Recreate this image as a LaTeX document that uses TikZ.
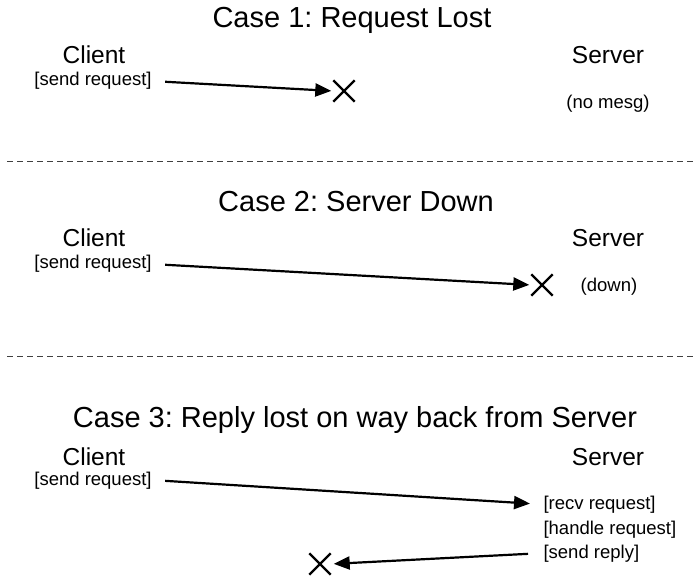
\documentclass[tikz,border=0pt]{standalone}
\usepackage{fontspec}
\setmainfont{Liberation Sans}
\usetikzlibrary{arrows.meta,shapes.misc}
\frenchspacing

\tikzset{
  casetitle/.style={font=\fontsize{29}{34}\selectfont, anchor=base},
  party/.style={font=\fontsize{24.5}{29}\selectfont, anchor=base},
  action/.style={font=\fontsize{18.5}{22}\selectfont, anchor=base},
  lost/.style={draw, cross out, line width=2.4pt, minimum size=19pt, inner sep=0pt},
  msg/.style={line width=2.2pt, -{Triangle[length=16pt,width=13pt]}},
  divider/.style={black!75, line width=1pt, dash pattern=on 6pt off 4pt}
}

\begin{document}
\begin{tikzpicture}[x=1pt,y=-1pt]
\useasboundingbox (0,0) rectangle (694,577);

% Case 1
\node[casetitle] (title1) at (352,28) {Case 1: Request Lost};
\node[party] (client1) at (94,64) {Client};
\node[party] (server1) at (608,64) {Server};
\node[action] (req1) at (93,86) {[send request]};
\node[action] (nomesg) at (608,109) {(no mesg)};
\node[lost] (x1) at (344,91) {};
\draw[msg, shorten <=10pt, shorten >=2pt] (req1.east) -- (x1.west);

\draw[divider] (7,162) -- (694,162);

% Case 2
\node[casetitle] (title2) at (356,212) {Case 2: Server Down};
\node[party] (client2) at (94,247) {Client};
\node[party] (server2) at (608,247) {Server};
\node[action] (req2) at (93,269) {[send request]};
\node[action] (down) at (609,292) {(down)};
\node[lost] (x2) at (542,285) {};
\draw[msg, shorten <=10pt, shorten >=2pt] (req2.east) -- (x2.west);

\draw[divider] (7,357) -- (694,357);

% Case 3
\node[casetitle] (title3) at (355,428) {Case 3: Reply lost on way back from Server};
\node[party] (client3) at (94,465) {Client};
\node[party] (server3) at (608,465) {Server};
\node[action] (req3) at (93,485) {[send request]};
\node[action, anchor=base west] (recv) at (540,509) {[recv request]};
\node[action, anchor=base west] (handle) at (540,534) {[handle request]};
\node[action, anchor=base west] (reply) at (540,558) {[send reply]};
\node[lost] (x3) at (320,564) {};
\draw[msg, shorten <=10pt, shorten >=10pt] (req3.east) -- (recv.west);
\draw[msg, shorten <=12pt, shorten >=3pt] (reply.west) -- (x3.east);

\end{tikzpicture}
\end{document}
